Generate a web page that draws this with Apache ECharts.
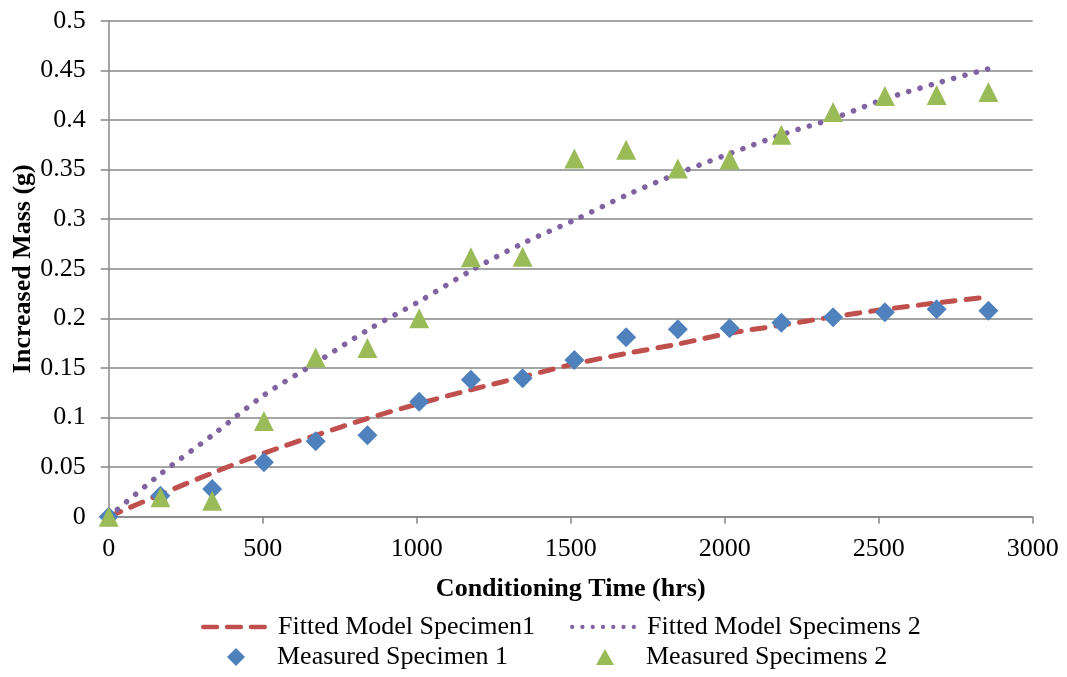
<!DOCTYPE html>
<html>
<head>
<meta charset="utf-8">
<style>
  html, body { margin: 0; padding: 0; background: #fff; }
  #chart { width: 1067px; height: 677px; }
</style>
<script src="https://cdn.jsdelivr.net/npm/echarts@6/dist/echarts.min.js"></script>
</head>
<body>
<div id="chart"></div>
<script>
// Conditioning time in hours (weekly measurements)
var times = [0, 168, 336, 504, 672, 840, 1008, 1176, 1344, 1512, 1680, 1848, 2016, 2184, 2352, 2520, 2688, 2856];

// Measured mass gain (g)
var measured1 = [0, 0.021, 0.028, 0.055, 0.076, 0.082, 0.116, 0.138, 0.1395, 0.158, 0.181, 0.189, 0.190, 0.1955, 0.201, 0.206, 0.209, 0.2077];
var measured2 = [0, 0.0195, 0.016, 0.0965, 0.1605, 0.170, 0.200, 0.2615, 0.262, 0.361, 0.370, 0.351, 0.360, 0.385, 0.408, 0.424, 0.425, 0.428];

// Fitted model curves (g), sampled at the same times
var fitted1 = [0, 0.0225, 0.044, 0.064, 0.082, 0.099, 0.114, 0.128, 0.141, 0.154, 0.1645, 0.174, 0.185, 0.193, 0.2015, 0.209, 0.2155, 0.2215];
var fitted2 = [0, 0.043, 0.082, 0.1225, 0.155, 0.188, 0.217, 0.248, 0.2755, 0.299, 0.324, 0.346, 0.366, 0.385, 0.4015, 0.421, 0.437, 0.4515];

var seriesNames = ['Fitted Model Specimen1', 'Fitted Model Specimens 2', 'Measured Specimen 1', 'Measured Specimens 2'];

function pairs(xs, ys) {
  return xs.map(function (x, i) { return [x, ys[i]]; });
}

// Legend icon: a row of rounded dashes
function dashIcon(count, len, gap, h) {
  var r = h / 2, d = 'path://';
  for (var i = 0; i < count; i++) {
    var x0 = i * (len + gap);
    d += 'M' + (x0 + r) + ',0 H' + (x0 + len - r) +
         ' A' + r + ',' + r + ' 0 0 1 ' + (x0 + len - r) + ',' + h +
         ' H' + (x0 + r) +
         ' A' + r + ',' + r + ' 0 0 1 ' + (x0 + r) + ',0 Z ';
  }
  return d;
}
// Legend icon: a row of dots
function dotIcon(count, step, r) {
  var d = 'path://';
  for (var i = 0; i < count; i++) {
    var cx = r + i * step;
    d += 'M' + (cx - r) + ',' + r +
         ' A' + r + ',' + r + ' 0 1 0 ' + (cx + r) + ',' + r +
         ' A' + r + ',' + r + ' 0 1 0 ' + (cx - r) + ',' + r + ' Z ';
  }
  return d;
}
// Legend marker shapes (kept at their own aspect ratio)
var diamondIcon = 'path://M9,0 L18,9 L9,18 L0,9 Z';
var triangleIcon = 'path://M9,0 L18,16 L0,16 Z';

var FONT = '"Liberation Serif", "Times New Roman", serif';
var GRAY = '#878787';

function legendAt(left, top, name, icon, h, textPad) {
  return {
    left: left, top: top,
    padding: 0,
    itemWidth: 66, itemHeight: h,
    symbolKeepAspect: true,
    itemStyle: { borderWidth: 0 },
    textStyle: { fontFamily: FONT, fontSize: 26, color: '#000', padding: [0, 0, 0, textPad] },
    data: [{ name: name, icon: icon }]
  };
}

var chart = echarts.init(document.getElementById('chart'), null, { renderer: 'canvas' });

chart.setOption({
  animation: false,
  backgroundColor: '#ffffff',
  grid: { left: 108.7, right: 34.3, top: 20.7, bottom: 160.3, containLabel: false, outerBoundsMode: 'none' },
  xAxis: {
    type: 'value',
    min: 0, max: 3000, interval: 500,
    name: 'Conditioning Time (hrs)',
    nameLocation: 'middle',
    nameGap: 60,
    nameMoveOverlap: false,
    nameTextStyle: { fontFamily: FONT, fontSize: 26, fontWeight: 'bold', color: '#000' },
    axisLine: { show: true, lineStyle: { color: GRAY, width: 1.5 } },
    axisTick: { show: true, inside: false, length: 7, lineStyle: { color: GRAY, width: 1.5 } },
    axisLabel: {
      margin: 19, fontFamily: FONT, fontSize: 26, color: '#000',
      formatter: function (v) { return String(v); }
    },
    splitLine: { show: false }
  },
  yAxis: {
    type: 'value',
    min: 0, max: 0.5, interval: 0.05,
    name: 'Increased Mass (g)',
    nameLocation: 'middle',
    nameGap: 72,
    nameMoveOverlap: false,
    nameRotate: 90,
    nameTextStyle: { fontFamily: FONT, fontSize: 26, fontWeight: 'bold', color: '#000' },
    axisLine: { show: true, lineStyle: { color: GRAY, width: 1.5 } },
    axisTick: { show: true, inside: false, length: 8, lineStyle: { color: GRAY, width: 1.5 } },
    axisLabel: { margin: 23, fontFamily: FONT, fontSize: 26, color: '#000' },
    splitLine: { show: true, lineStyle: { color: GRAY, width: 1.5 } }
  },
  legend: [
    legendAt(201, 614, seriesNames[0], dashIcon(3, 18.7, 5.7, 4.5), 18, 6),
    legendAt(570, 614, seriesNames[1], dotIcon(7, 10, 2.1), 18, 6),
    legendAt(227, 644, seriesNames[2], diamondIcon, 18, 3),
    legendAt(596, 644, seriesNames[3], triangleIcon, 16, 3)
  ],
  series: [
    {
      name: seriesNames[0],
      type: 'line',
      data: pairs(times, fitted1),
      smooth: 0.3,
      showSymbol: false,
      symbol: 'none',
      color: '#C0504D',
      lineStyle: { color: '#C0504D', width: 5, type: [13, 11], cap: 'round' },
      z: 2
    },
    {
      name: seriesNames[1],
      type: 'line',
      data: pairs(times, fitted2),
      smooth: 0.3,
      showSymbol: false,
      symbol: 'none',
      color: '#8064A2',
      lineStyle: { color: '#8064A2', width: 5.5, type: [0.1, 11.6], cap: 'round' },
      z: 2
    },
    {
      name: seriesNames[2],
      type: 'scatter',
      data: pairs(times, measured1),
      symbol: 'diamond',
      symbolSize: 20,
      itemStyle: { color: '#4F81BD', opacity: 1 },
      z: 3
    },
    {
      name: seriesNames[3],
      type: 'scatter',
      data: pairs(times, measured2),
      symbol: 'triangle',
      symbolSize: 20,
      itemStyle: { color: '#9BBB59', opacity: 1 },
      z: 4
    }
  ]
});
</script>
</body>
</html>
